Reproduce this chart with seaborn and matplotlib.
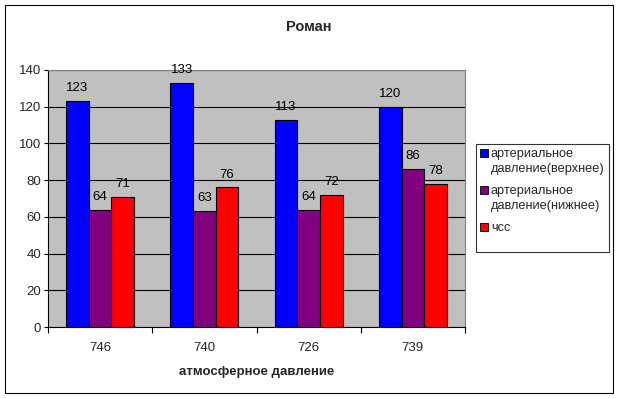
import matplotlib
matplotlib.use("Agg")
import matplotlib.pyplot as plt
import seaborn as sns
import pandas as pd
from matplotlib.patches import Rectangle
from matplotlib.legend_handler import HandlerPatch

categories = ["746", "740", "726", "739"]
series_names = ["артериальное\nдавление(верхнее)", "артериальное\nдавление(нижнее)", "чсс\n "]
upper = [123, 133, 113, 120]
lower = [64, 63, 64, 86]
hr = [71, 76, 72, 78]
colors = ["#0000FF", "#800080", "#FF0000"]
yticks = [0, 20, 40, 60, 80, 100, 120, 140]

rows = []
for name, vals in zip(series_names, [upper, lower, hr]):
    for c, v in zip(categories, vals):
        rows.append({"cat": c, "series": name, "val": v})
df = pd.DataFrame(rows)

sns.set_theme(style="white")
plt.rcParams["font.family"] = ["Liberation Sans", "DejaVu Sans"]
FS = 9.5
LFS = 9.2

fig = plt.figure(figsize=(6.2, 3.98), dpi=100)
ax = fig.add_axes([48/620, 1-327/398, 417/620, 257/398])
ax.set_facecolor("#C0C0C0")

sns.barplot(data=df, x="cat", y="val", hue="series", order=categories,
            hue_order=series_names, palette=colors, width=0.65,
            edgecolor="black", linewidth=0.8, saturation=1, ax=ax, zorder=3)

for cont in ax.containers:
    ax.bar_label(cont, padding=5, fontsize=FS, color="black")

ax.set_ylim(0, 140)
ax.set_xlim(-0.5, len(categories) - 0.5)
ax.set_yticks(yticks)
ax.yaxis.grid(True, color="black", linewidth=0.8, zorder=0)
ax.set_axisbelow(True)
ax.tick_params(axis="y", length=3, width=0.8, color="black", labelsize=FS, pad=2, left=True)

# x ticks: marks at category boundaries, labels at centers
ax.set_xticks([i - 0.5 for i in range(len(categories) + 1)])
ax.set_xticklabels([""] * (len(categories) + 1))
ax.set_xticks(list(range(len(categories))), minor=True)
ax.set_xticklabels(categories, minor=True)
ax.tick_params(axis="x", which="major", length=4, width=0.8, color="black", bottom=True)
ax.tick_params(axis="x", which="minor", length=0, labelsize=FS, pad=10.5)

for s in ["left", "bottom"]:
    ax.spines[s].set_color("black")
    ax.spines[s].set_linewidth(0.8)
for s in ["top", "right"]:
    ax.spines[s].set_color("#808080")
    ax.spines[s].set_linewidth(0.8)

ax.set_ylabel("")
ax.set_xlabel("атмосферное давление", fontsize=FS, fontweight="bold", labelpad=9)
fig.text(309/620, 1-27/398, "Роман", ha="center", va="center",
         fontsize=10.5, fontweight="bold")

ax.legend_.remove()
handles, labels = ax.get_legend_handles_labels()


def up_patch(legend, orig_handle, xdescent, ydescent, width, height, fontsize):
    return Rectangle((-xdescent, -ydescent + 0.62 * fontsize), width, height)


hmap = {h: HandlerPatch(patch_func=up_patch) for h in handles}
leg = fig.legend(handles, labels, loc="upper left",
                 bbox_to_anchor=(476/620, 1-144/398), fontsize=LFS,
                 frameon=True, fancybox=False, edgecolor="black",
                 handlelength=0.62, handleheight=0.62, handletextpad=0.25,
                 borderpad=0.3, labelspacing=0.78, borderaxespad=0,
                 handler_map=hmap)
for t in leg.get_texts():
    t.set_linespacing(1.32)
leg.get_frame().set_linewidth(0.8)
for h in leg.legend_handles:
    h.set_edgecolor("black")
    h.set_linewidth(0.6)

fig.patches.append(Rectangle((5/620, 1-393/398), 608/620, 388/398,
                             transform=fig.transFigure, fill=False,
                             edgecolor="black", linewidth=0.8))

fig.savefig("out.png", dpi=100)
